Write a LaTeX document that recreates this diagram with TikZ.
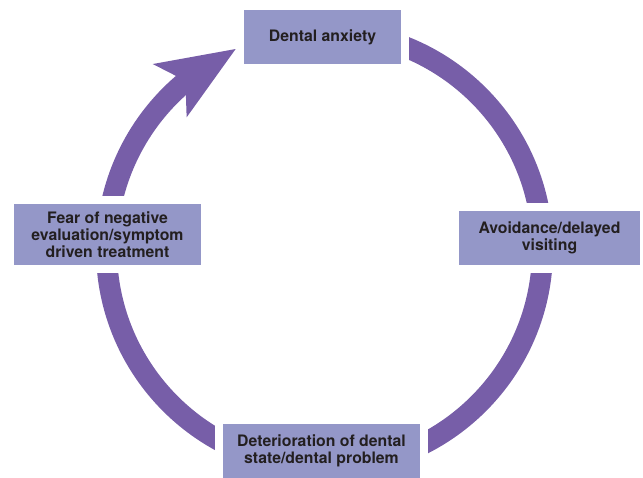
\documentclass[tikz,border=0pt]{standalone}
\usepackage{fontspec}
\setmainfont{TeX Gyre Heros}
\definecolor{ringpurple}{RGB}{119,94,168}
\definecolor{boxlilac}{RGB}{148,151,200}
\definecolor{labelink}{RGB}{35,31,32}
\begin{document}
\begin{tikzpicture}[x=1pt,y=-1pt,
  stage/.style={fill=boxlilac,draw=white,line width=8pt,inner sep=0pt,
    align=center,text=labelink,font=\fontsize{15.8}{17}\selectfont\bfseries}]
  \useasboundingbox (0,0) rectangle (643,477);
  \pgfmathsetmacro\rmid{218}
  \pgfmathsetmacro\rin{208}
  \pgfmathsetmacro\rout{229}
  \coordinate (hub) at (324.5,249.5);
  % ring of the cycle, clockwise from the top
  \draw[ringpurple,line width=21pt] (hub) ++(-90:\rmid) arc (-90:229.5:\rmid);
  % arrow head pointing at the first stage
  \fill[ringpurple,shift={(hub)}]
    (227.2:252.8) -- (246.1:219.3) -- (223.8:191) -- (228.2:\rin) -- (229.4:\rout) -- cycle;
  % the four stages
  \node[stage,minimum width=165pt,minimum height=62pt] (anxiety) at (322.5,37) {Dental anxiety};
  \node[stage,minimum width=189pt,minimum height=62pt] (avoid) at (549.5,238) {Avoidance/delayed\\visiting};
  \node[stage,minimum width=205pt,minimum height=62pt] (deterior) at (321.5,451) {Deterioration of dental\\state/dental problem};
  \node[stage,minimum width=195pt,minimum height=69pt] (fear) at (107.5,234.5) {Fear of negative\\evaluation/symptom\\driven treatment};
\end{tikzpicture}
\end{document}
